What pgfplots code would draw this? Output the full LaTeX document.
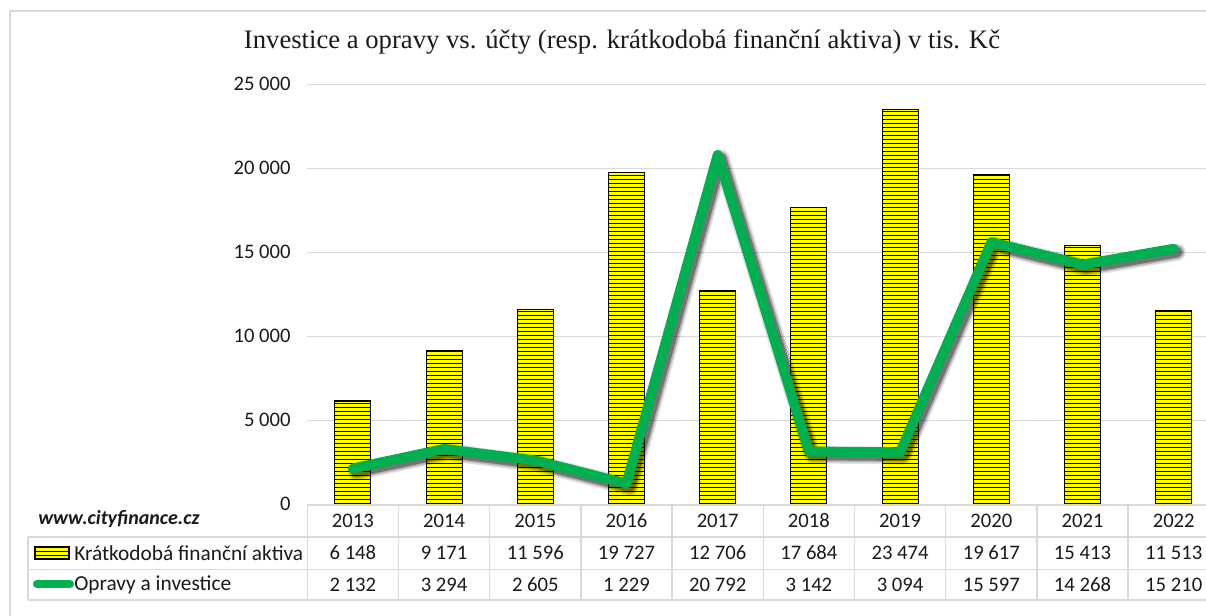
\documentclass[border=0pt]{standalone}
\usepackage{pgfplots}
\pgfplotsset{compat=1.18}
\usepackage{pgfplotstable}
\usepackage{fontspec}
\setmainfont{Carlito}
\newfontfamily\titlefont{Liberation Serif}
\usetikzlibrary{patterns.meta}
\definecolor{grn}{HTML}{00B050}
\definecolor{grd}{HTML}{D9D9D9}
\definecolor{txt}{HTML}{1A1A1A}
\definecolor{bary}{HTML}{FFFF00}
\tikzdeclarepattern{
  name=hstripes,
  type=uncolored,
  bottom left={(-.1pt,-.1pt)},
  top right={(3.1pt,3.1pt)},
  tile size={(3pt,3pt)},
  code={\pgfsetlinewidth{1pt}\pgfpathmoveto{\pgfpoint{-.1pt}{0.5pt}}\pgfpathlineto{\pgfpoint{3.1pt}{0.5pt}}\pgfusepath{stroke}}
}

\pgfplotstableread{
year kfa oi
2013 6148 2132
2014 9171 3294
2015 11596 2605
2016 19727 1229
2017 12706 20792
2018 17684 3142
2019 23474 3094
2020 19617 15597
2021 15413 14268
2022 11513 15210
}\data

\begin{document}
\begin{tikzpicture}[x=0.75pt,y=-0.75pt]
\useasboundingbox (0,0) rectangle (1206,616);
\fill[white] (0,0) rectangle (1206,616);
\draw[grd, line width=1pt] (10,11) -- (1300,11) (10,11) -- (10,700);
\node[font=\titlefont\fontsize{20}{22}\selectfont, text=txt, inner sep=0pt] at (622,42) {Investice a opravy vs. účty (resp. krátkodobá finanční aktiva) v tis. Kč};

\begin{axis}[
  at={(230.475pt,-378.225pt)}, anchor=south west,
  scale only axis, width=684pt, height=315pt,
  xmin=-0.5, xmax=9.5, ymin=0, ymax=25000,
  xtick=\empty,
  ytick={0,5000,10000,15000,20000,25000},
  scaled y ticks=false,
  ymajorgrids, grid style={grd, line width=1pt},
  axis line style={draw=none},
  major tick length=0pt,
  clip=false,
  /pgf/number format/1000 sep={\ },
  /pgf/number format/assume math mode=true,
  every tick label/.append style={font=\fontsize{15.5}{18}\selectfont, text=txt},
  yticklabel style={xshift=-9pt},
  every node near coord/.append style={anchor=center, font=\fontsize{15.5}{18}\selectfont, text=txt, inner sep=0pt},
]
\addplot[ybar, bar width=27pt, draw=black, line width=0.8pt, fill=bary,
  postaction={pattern=hstripes, pattern color=black}]
  table[x expr=\coordindex, y=kfa] {\data};
\addplot[black, opacity=0.12, line width=13pt, xshift=2.5pt, yshift=-2.5pt, line join=round, line cap=round]
  table[x expr=\coordindex, y=oi] {\data};
\addplot[black, opacity=0.2, line width=10.5pt, xshift=2.5pt, yshift=-2.5pt, line join=round, line cap=round]
  table[x expr=\coordindex, y=oi] {\data};
\addplot[black, opacity=0.35, line width=8pt, xshift=2.5pt, yshift=-2.5pt, line join=round, line cap=round]
  table[x expr=\coordindex, y=oi] {\data};
\addplot[grn, line width=7.5pt, line join=round, line cap=round]
  table[x expr=\coordindex, y=oi] {\data};
% data table rows
\addplot[draw=none, nodes near coords, point meta=explicit symbolic]
  table[x expr=\coordindex, y expr=-994, meta=year] {\data};
\addplot[draw=none, nodes near coords, point meta=explicit]
  table[x expr=\coordindex, y expr=-2899, meta=kfa] {\data};
\addplot[draw=none, nodes near coords, point meta=explicit]
  table[x expr=\coordindex, y expr=-4804, meta=oi] {\data};
\end{axis}

% table grid
\begin{scope}[grd, line width=1pt]
\draw (307.3,505) -- (1230,505);
\draw (28,537) -- (1230,537) (28,569.3) -- (1230,569.3) (28,600) -- (1230,600);
\draw (28,537) -- (28,600);
\foreach \k in {0,...,10} {\draw ({307.3+91.2*\k},505) -- ({307.3+91.2*\k},600);}
\end{scope}

% legend keys
\fill[bary] (35,547) rectangle (69,559);
\fill[pattern=hstripes, pattern color=black] (35,547) rectangle (69,559);
\draw[black, line width=0.8pt] (35,547) rectangle (69,559);
\draw[grn, line width=6pt, line cap=round] (37,584) -- (70,584);
\node[anchor=west, inner sep=0pt, font=\fontsize{16}{19}\selectfont, text=txt] at (74,553) {Krátkodobá finanční aktiva};
\node[anchor=west, inner sep=0pt, font=\fontsize{16}{19}\selectfont, text=txt] at (74,585) {Opravy a investice};
\node[anchor=west, inner sep=0pt, font=\bfseries\itshape\fontsize{15}{18}\selectfont, text=txt] at (38,519) {www.cityfinance.cz};
\end{tikzpicture}
\end{document}
